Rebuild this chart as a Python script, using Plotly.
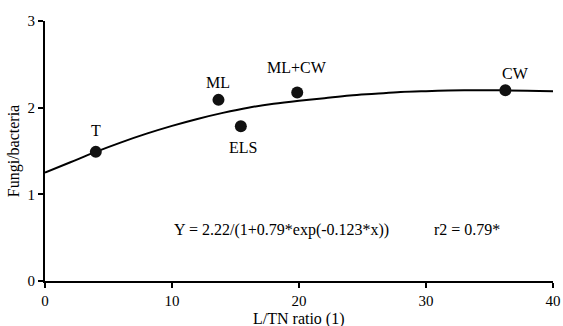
import plotly.graph_objects as go

# Data points
labels = ["T", "ML", "ELS", "ML+CW", "CW"]
lt_ratio = [4.0, 13.66, 15.42, 19.86, 36.25]
fungi_bacteria = [1.49, 2.09, 1.785, 2.175, 2.20]

# Fitted curve
curve_x = [0, 2, 4, 6, 8, 10, 12, 14, 16, 18, 20, 22, 24, 26, 28, 30, 33, 36, 40]
curve_y = [1.25, 1.37, 1.49, 1.60, 1.70, 1.79, 1.87, 1.94, 2.00, 2.045, 2.08, 2.11, 2.14, 2.16, 2.18, 2.19, 2.20, 2.20, 2.19]

x_ticks = [0, 10, 20, 30, 40]
y_ticks = [0, 1, 2, 3]

x_title = "L/TN ratio (1)"
y_title = "Fungi/bacteria"
equation_text = "Y = 2.22/(1+0.79*exp(-0.123*x))"
r2_text = "r2 = 0.79*"

# label offsets (style)
label_shift_x = [0, 0, 2, 0, 10]
label_shift_y = [21, 17, -21, 25, 17]

FONT = "Liberation Serif"
FS = 16

fig = go.Figure()
fig.add_trace(go.Scatter(x=curve_x, y=curve_y, mode="lines",
                         line=dict(color="black", width=2, shape="spline"),
                         showlegend=False, hoverinfo="skip", cliponaxis=False))
fig.add_trace(go.Scatter(x=lt_ratio, y=fungi_bacteria, mode="markers",
                         marker=dict(color="#111111", size=12),
                         showlegend=False))

for lab, x, y, dx, dy in zip(labels, lt_ratio, fungi_bacteria, label_shift_x, label_shift_y):
    fig.add_annotation(x=x, y=y, text=lab, showarrow=False, xshift=dx, yshift=dy,
                       font=dict(family=FONT, size=FS, color="black"))

fig.add_annotation(x=18.65, y=0.59, text=equation_text, showarrow=False,
                   font=dict(family=FONT, size=FS, color="black"))
fig.add_annotation(x=33.2, y=0.59, text=r2_text, showarrow=False,
                   font=dict(family=FONT, size=FS, color="black"))
fig.add_annotation(xref="paper", yref="paper", x=0.5, y=0, yshift=-38,
                   yanchor="middle", text=x_title, showarrow=False,
                   font=dict(family=FONT, size=FS, color="black"))

fig.update_layout(
    width=563, height=326,
    margin=dict(l=45, r=10, t=21, b=45, autoexpand=False),
    paper_bgcolor="white", plot_bgcolor="white",
    font=dict(family=FONT, size=FS, color="black"),
    xaxis=dict(range=[0, 40], tickvals=x_ticks, showgrid=False, zeroline=False,
               automargin=False, tickfont=dict(family=FONT, size=15),
               showline=True, linecolor="black", linewidth=2,
               ticks="outside", ticklen=5, tickwidth=2, tickcolor="black"),
    yaxis=dict(range=[0, 3], tickvals=y_ticks, showgrid=False, zeroline=False,
               automargin=False, tickfont=dict(family=FONT, size=15),
               showline=True, linecolor="black", linewidth=2,
               ticks="outside", ticklen=5, tickwidth=2, tickcolor="black",
               title=dict(text=y_title, standoff=4,
                          font=dict(family=FONT, size=FS))),
)

fig.write_html("out.html", config={"displayModeBar": False},
               post_script="document.body.style.margin='0';document.body.style.overflow='hidden';")
